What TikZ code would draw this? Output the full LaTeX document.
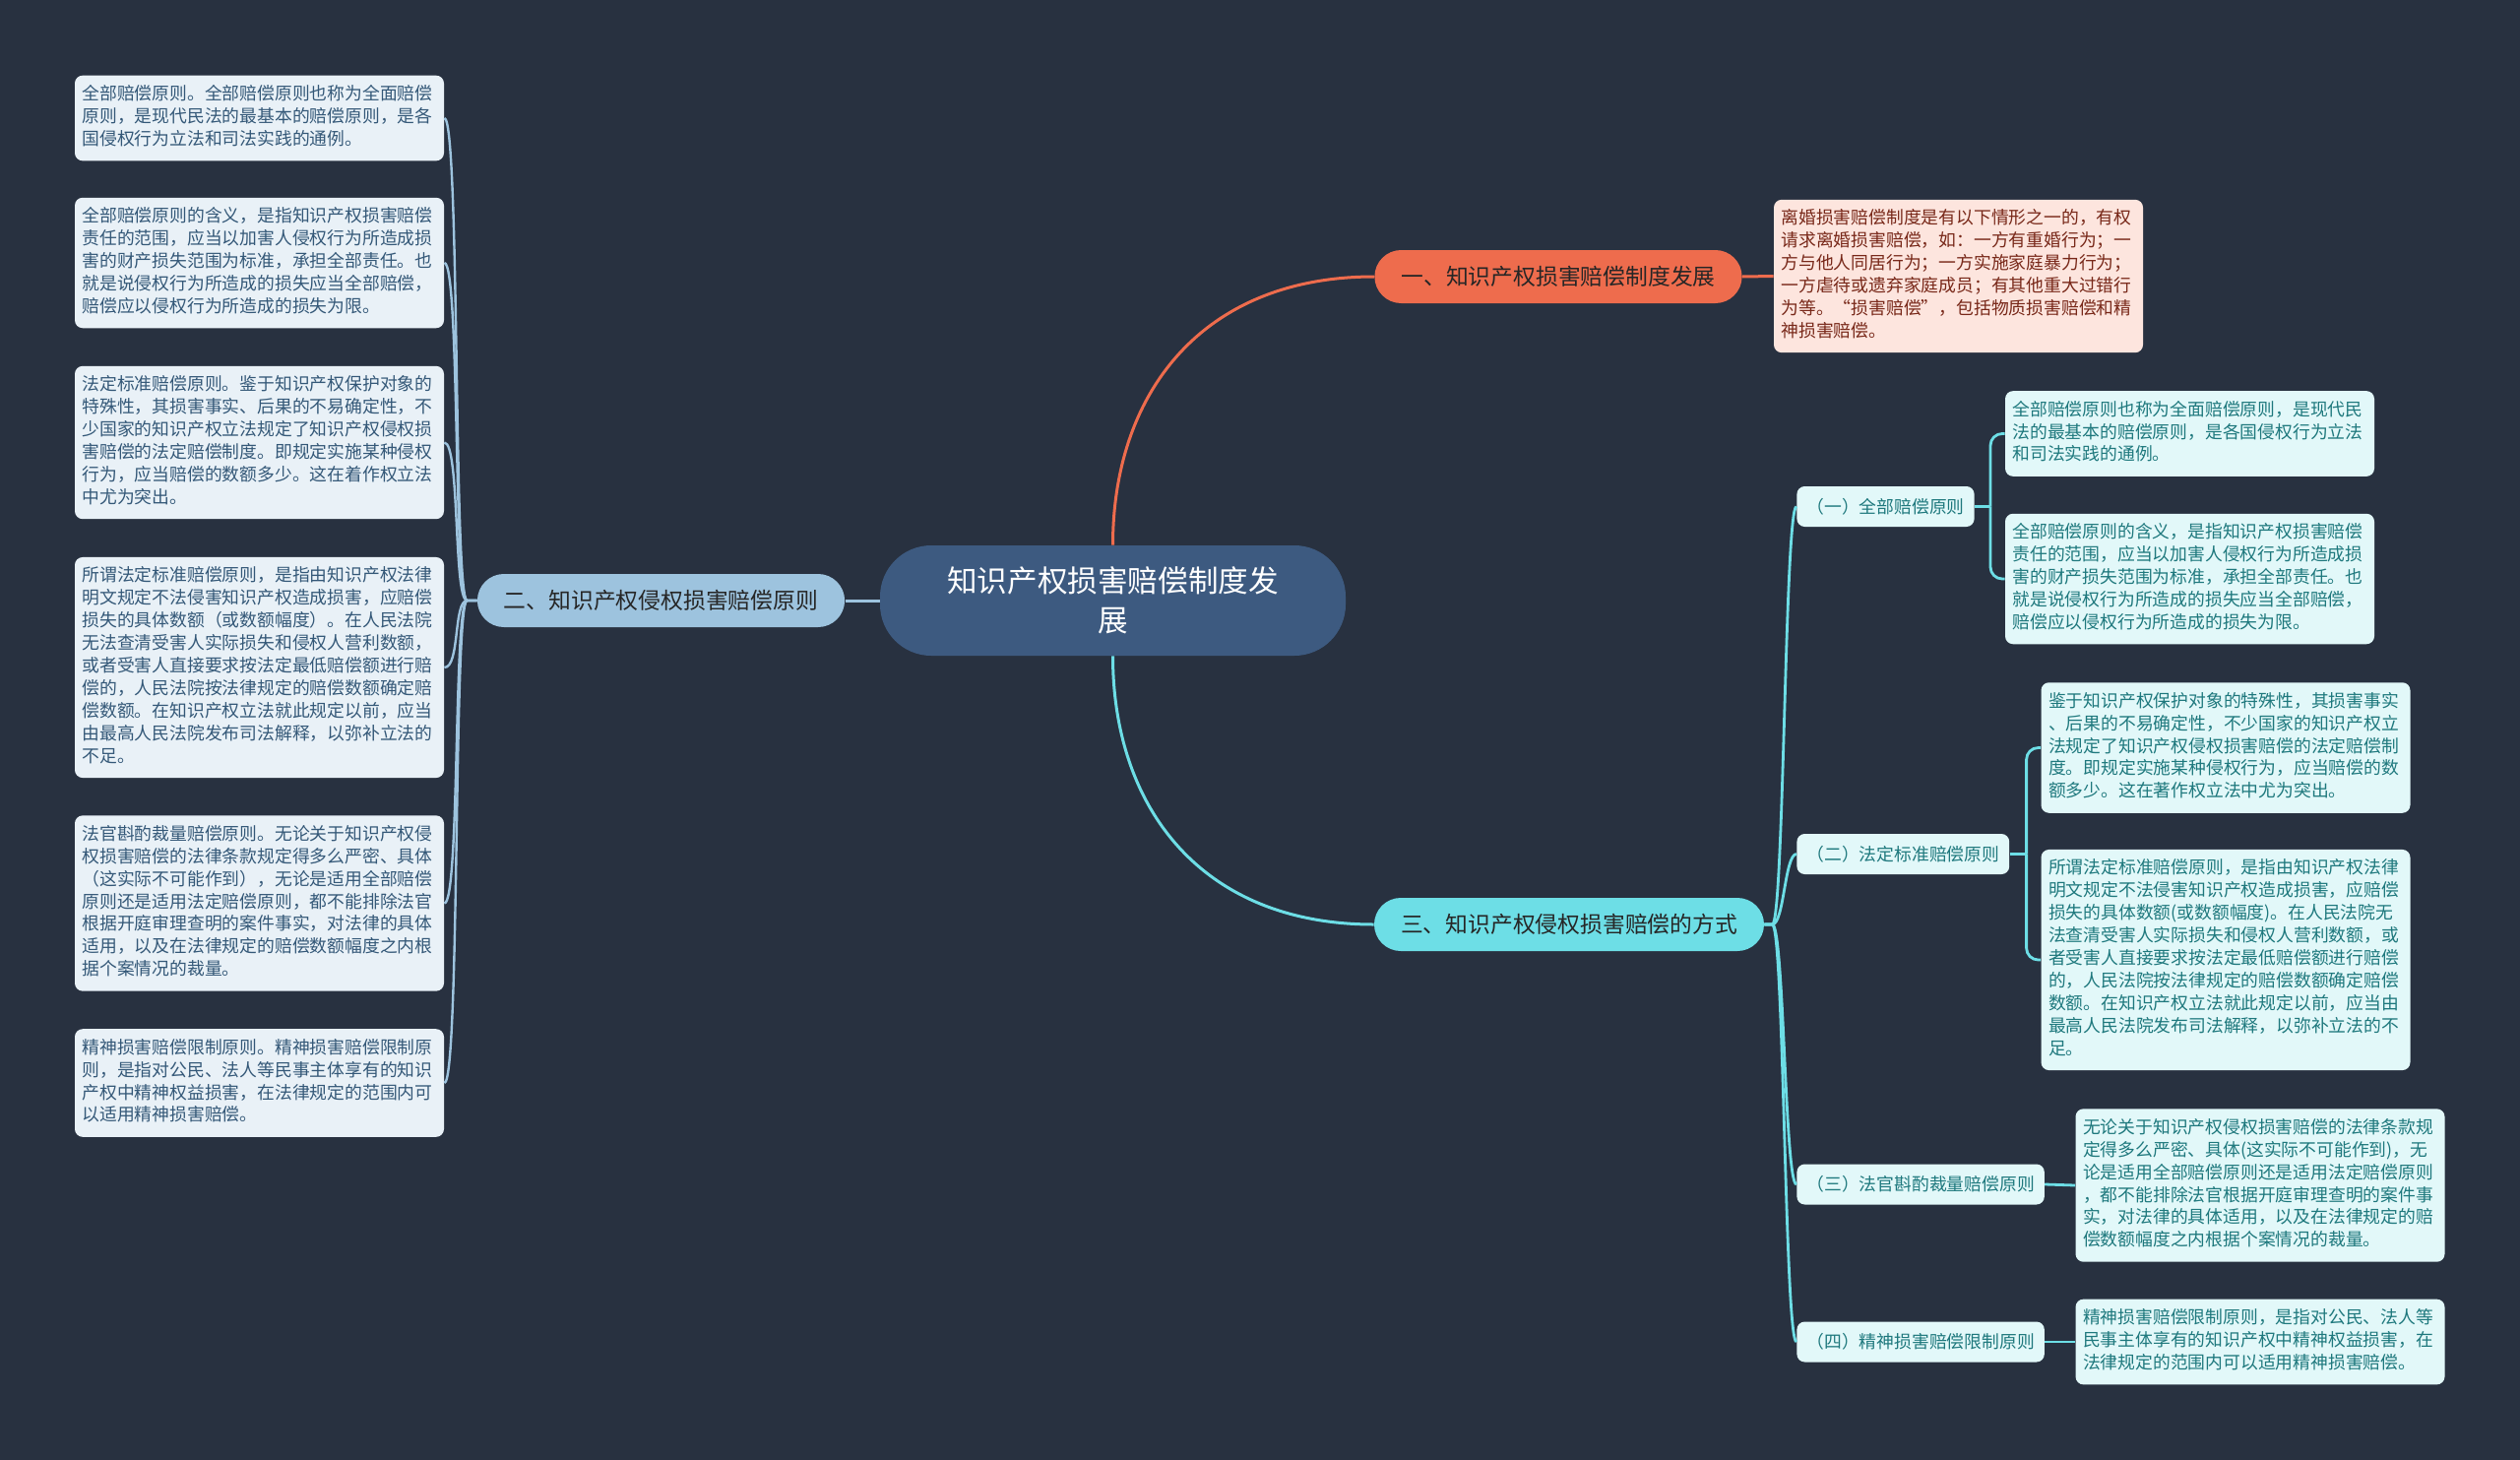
\documentclass[tikz,border=0pt]{standalone}
\usepackage{fontspec}
\usepackage{tikz}
\usetikzlibrary{positioning, calc}
\newfontfamily\cjk{Noto Sans CJK SC}
\definecolor{bgdark}{RGB}{40,49,64}
\definecolor{rootblue}{RGB}{61,90,128}
\definecolor{mycoral}{RGB}{238,108,77}
\definecolor{hdrcoral}{RGB}{253,229,222}
\definecolor{txtcoral}{RGB}{120,40,25}
\definecolor{mysky}{RGB}{157,195,222}
\definecolor{hdrsky}{RGB}{233,241,247}
\definecolor{txtsky}{RGB}{52,88,120}
\definecolor{mycyan}{RGB}{109,222,230}
\definecolor{hdrcyan}{RGB}{226,248,249}
\definecolor{txtcyan}{RGB}{30,120,125}
\tikzset{
  rootnode/.style={rectangle, fill=rootblue, text=white,
    text width=170pt, align=center, minimum width=236.5pt,
    minimum height=56pt, rounded corners=26pt,
    font=\cjk\fontsize{15.3}{20}\selectfont},
  mainnode/.style={rectangle, inner xsep=13.5pt, minimum height=27pt,
    rounded corners=13.5pt, font=\cjk\fontsize{11.4}{14}\selectfont},
  leaf/.style={rectangle, rounded corners=4pt, text width=180pt,
    inner xsep=3.75pt, inner ysep=4.5pt, align=left,
    font=\cjk\fontsize{8.9}{11.45}\selectfont,
    execute at begin node=\strut, execute at end node=\strut},
  redleaf/.style={leaf, fill=hdrcoral, text=txtcoral},
  skyleaf/.style={leaf, fill=hdrsky, text=txtsky},
  cyanleaf/.style={leaf, fill=hdrcyan, text=txtcyan},
  subnode/.style={rectangle, rounded corners=4pt, fill=hdrcyan,
    text=txtcyan, inner xsep=5pt, minimum height=20.5pt, anchor=west,
    font=\cjk\fontsize{8.9}{11.45}\selectfont},
  coralline/.style={line width=1.5pt, color=mycoral},
  skyline/.style={line width=1.2pt, color=mysky},
  cyanline/.style={line width=1.4pt, color=mycyan}
}

\begin{document}
\begin{tikzpicture}[x=0.5pt, y=-0.5pt]
  \fill[bgdark] (0,0) rectangle (2560,1483);
  \useasboundingbox (0,0) rectangle (2560,1483);
  % centre
  \node[rootnode] (root) at (1130.5,610) {知识产权损害赔偿制度发\\展};
  % main branches
  \node[mainnode, fill=mycoral, text=black!85] (b1) at (1583,281)
       {一、知识产权损害赔偿制度发展};
  \node[mainnode, fill=mysky, text=black!85] (b2) at (671.5,610)
       {二、知识产权侵权损害赔偿原则};
  \node[mainnode, fill=mycyan, text=black!85] (b3) at (1594,939)
       {三、知识产权侵权损害赔偿的方式};
  % branch one
  \node[redleaf] (d1) at (1989.5,280.5)
       {离婚损害赔偿制度是有以下情形之一的，有权\\请求离婚损害赔偿，如：一方有重婚行为；一\\方与他人同居行为；一方实施家庭暴力行为；\\一方虐待或遗弃家庭成员；有其他重大过错行\\为等。“损害赔偿”，包括物质损害赔偿和精\\神损害赔偿。};
  % branch two
  \node[skyleaf] (l1) at (263.5,120)
       {全部赔偿原则。全部赔偿原则也称为全面赔偿\\原则，是现代民法的最基本的赔偿原则，是各\\国侵权行为立法和司法实践的通例。};
  \node[skyleaf] (l2) at (263.5,267)
       {全部赔偿原则的含义，是指知识产权损害赔偿\\责任的范围，应当以加害人侵权行为所造成损\\害的财产损失范围为标准，承担全部责任。也\\就是说侵权行为所造成的损失应当全部赔偿，\\赔偿应以侵权行为所造成的损失为限。};
  \node[skyleaf] (l3) at (263.5,449.5)
       {法定标准赔偿原则。鉴于知识产权保护对象的\\特殊性，其损害事实、后果的不易确定性，不\\少国家的知识产权立法规定了知识产权侵权损\\害赔偿的法定赔偿制度。即规定实施某种侵权\\行为，应当赔偿的数额多少。这在着作权立法\\中尤为突出。};
  \node[skyleaf] (l4) at (263.5,678)
       {所谓法定标准赔偿原则，是指由知识产权法律\\明文规定不法侵害知识产权造成损害，应赔偿\\损失的具体数额（或数额幅度）。在人民法院\\无法查清受害人实际损失和侵权人营利数额，\\或者受害人直接要求按法定最低赔偿额进行赔\\偿的，人民法院按法律规定的赔偿数额确定赔\\偿数额。在知识产权立法就此规定以前，应当\\由最高人民法院发布司法解释，以弥补立法的\\不足。};
  \node[skyleaf] (l5) at (263.5,917.5)
       {法官斟酌裁量赔偿原则。无论关于知识产权侵\\权损害赔偿的法律条款规定得多么严密、具体\\（这实际不可能作到），无论是适用全部赔偿\\原则还是适用法定赔偿原则，都不能排除法官\\根据开庭审理查明的案件事实，对法律的具体\\适用，以及在法律规定的赔偿数额幅度之内根\\据个案情况的裁量。};
  \node[skyleaf] (l6) at (263.5,1100)
       {精神损害赔偿限制原则。精神损害赔偿限制原\\则，是指对公民、法人等民事主体享有的知识\\产权中精神权益损害，在法律规定的范围内可\\以适用精神损害赔偿。};
  % branch three
  \node[subnode] (s1) at (1825,514.5) {（一）全部赔偿原则};
  \node[subnode] (s2) at (1825,867.5) {（二）法定标准赔偿原则};
  \node[subnode] (s3) at (1825,1203) {（三）法官斟酌裁量赔偿原则};
  \node[subnode] (s4) at (1825,1363) {（四）精神损害赔偿限制原则};
  \node[cyanleaf] (r1) at (2224.5,440.5)
       {全部赔偿原则也称为全面赔偿原则，是现代民\\法的最基本的赔偿原则，是各国侵权行为立法\\和司法实践的通例。};
  \node[cyanleaf] (r2) at (2224.5,588)
       {全部赔偿原则的含义，是指知识产权损害赔偿\\责任的范围，应当以加害人侵权行为所造成损\\害的财产损失范围为标准，承担全部责任。也\\就是说侵权行为所造成的损失应当全部赔偿，\\赔偿应以侵权行为所造成的损失为限。};
  \node[cyanleaf] (r3) at (2261,759.5)
       {鉴于知识产权保护对象的特殊性，其损害事实\\、后果的不易确定性，不少国家的知识产权立\\法规定了知识产权侵权损害赔偿的法定赔偿制\\度。即规定实施某种侵权行为，应当赔偿的数\\额多少。这在著作权立法中尤为突出。};
  \node[cyanleaf] (r4) at (2261,975)
       {所谓法定标准赔偿原则，是指由知识产权法律\\明文规定不法侵害知识产权造成损害，应赔偿\\损失的具体数额(或数额幅度)。在人民法院无\\法查清受害人实际损失和侵权人营利数额，或\\者受害人直接要求按法定最低赔偿额进行赔偿\\的，人民法院按法律规定的赔偿数额确定赔偿\\数额。在知识产权立法就此规定以前，应当由\\最高人民法院发布司法解释，以弥补立法的不\\足。};
  \node[cyanleaf] (r5) at (2296,1204)
       {无论关于知识产权侵权损害赔偿的法律条款规\\定得多么严密、具体(这实际不可能作到)，无\\论是适用全部赔偿原则还是适用法定赔偿原则\\，都不能排除法官根据开庭审理查明的案件事\\实，对法律的具体适用，以及在法律规定的赔\\偿数额幅度之内根据个案情况的裁量。};
  \node[cyanleaf] (r6) at (2296,1363)
       {精神损害赔偿限制原则，是指对公民、法人等\\民事主体享有的知识产权中精神权益损害，在\\法律规定的范围内可以适用精神损害赔偿。};

  % connectors
  \draw[coralline] (root.north) .. controls +(0,-153) and +(-176,0) .. (b1.west);
  \draw[coralline] (b1.east) -- (d1.west);
  \draw[skyline, line width=1.5pt] (root.west) -- (b2.east);
  \foreach \n in {1,...,6}
    \draw[skyline] (b2.west) -- ++(-10,0) .. controls +(-14,0) and +(16,0) .. (l\n.east);
  \draw[cyanline, line width=1.5pt] (root.south) .. controls +(0,153) and +(-176,0) .. (b3.west);
  \foreach \n in {1,...,4}
    \draw[cyanline] (b3.east) -- ++(8,0) .. controls +(12,0) and +(-12,0) .. (s\n.west);
  % brackets to the leaves
  \draw[cyanline] (s1.east) -- ++(16,0) coordinate (j1);
  \draw[cyanline, rounded corners=6pt] (j1) |- (r1.west);
  \draw[cyanline, rounded corners=6pt] (j1) |- (r2.west);
  \draw[cyanline] (s2.east) -- ++(17,0) coordinate (j2);
  \draw[cyanline, rounded corners=6pt] (j2) |- (r3.west);
  \draw[cyanline, rounded corners=6pt] (j2) |- (r4.west);
  \draw[cyanline] (s3.east) -- (r5.west);
  \draw[cyanline] (s4.east) -- (r6.west);
\end{tikzpicture}
\end{document}
